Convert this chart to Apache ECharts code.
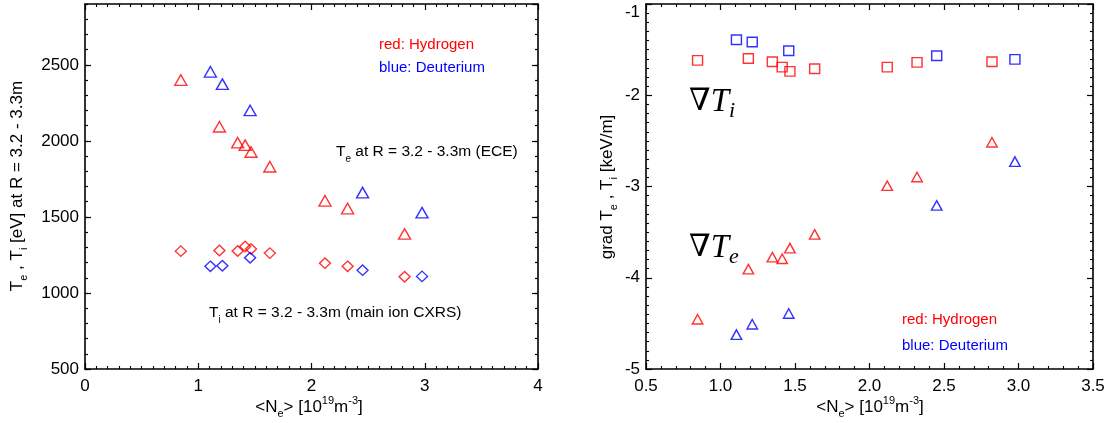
<!DOCTYPE html>
<html><head><meta charset="utf-8">
<script src="https://cdn.jsdelivr.net/npm/echarts@6/dist/echarts.min.js"></script>
<style>html,body{margin:0;padding:0;background:#fff}#c{width:1113px;height:423px}</style>
</head><body><div id="c"></div>
<script>
// ---- data ----
const hydrogenNe = [0.846, 1.187, 1.348, 1.414, 1.466, 1.632, 2.119, 2.319, 2.822];
const deuteriumNe = [1.107, 1.213, 1.458, 2.451, 2.976];
const hydrogenTe = [2400, 2093, 1988, 1972, 1927, 1830, 1606, 1555, 1388];
const deuteriumTe = [2454, 2373, 2200, 1660, 1528];
const hydrogenTi = [1275, 1279, 1276, 1305, 1289, 1262, 1196, 1175, 1106];
const deuteriumTi = [1175, 1179, 1232, 1150, 1109];
const hydrogenGradTi = [-1.618, -1.597, -1.633, -1.692, -1.739, -1.710, -1.692, -1.640, -1.633];
const deuteriumGradTi = [-1.392, -1.417, -1.512, -1.567, -1.607];
const hydrogenGradTe = [-4.455, -3.906, -3.774, -3.792, -3.675, -3.525, -2.991, -2.896, -2.515];
const deuteriumGradTe = [-4.623, -4.510, -4.392, -3.207, -2.727];
// ---- ticks ----
const leftXTicks = [0, 1, 2, 3, 4];
const leftYTicks = [500, 1000, 1500, 2000, 2500];
const leftYMax = 2900;
const leftYMinorStep = 100;
const rightXTicks = [0.5, 1.0, 1.5, 2.0, 2.5, 3.0, 3.5];
const rightYTicks = [-5, -4, -3, -2, -1];

const RED = '#ff0000', BLUE = '#0000ff';
const FONT = '"Liberation Sans", Arial, Helvetica, sans-serif';
const SERIF = '"Liberation Serif", "DejaVu Serif", "Times New Roman", serif';

const chart = echarts.init(document.getElementById('c'), null, {renderer: 'canvas'});
const pair = (a, b) => a.map((v, i) => [v, b[i]]);

function mkAxis(o) {
  return {
    type: 'value', gridIndex: o.grid, position: o.pos,
    show: o.show !== false,
    min: o.min, max: o.max, interval: o.interval,
    axisLine: {show: o.line !== false, onZero: false, lineStyle: {color: '#000', width: 1.6}},
    axisTick: {show: true, inside: true, length: o.tickLen || 6, lineStyle: {color: '#000', width: 1.2}},
    minorTick: {show: !!o.minor, splitNumber: o.minor || 5, length: 3, lineStyle: {color: '#000', width: 1.1}},
    splitLine: {show: false}, minorSplitLine: {show: false},
    axisLabel: Object.assign({show: !!o.labels, color: '#000', fontSize: 17, fontFamily: FONT,
      margin: o.margin || 8, formatter: o.fmt, showMaxLabel: o.showMax !== false}, o.labelExtra || {})
  };
}

const lx = leftXTicks, ly = leftYTicks, rx = rightXTicks, ry = rightYTicks;
const xAxes = [
  mkAxis({grid: 0, pos: 'bottom', min: lx[0], max: lx[lx.length-1], interval: lx[1]-lx[0], minor: 10, labels: true, margin: 9, fmt: v => String(v)}),
  mkAxis({grid: 0, pos: 'top', min: lx[0], max: lx[lx.length-1], interval: lx[1]-lx[0], minor: 10}),
  mkAxis({grid: 1, pos: 'bottom', min: rx[0], max: rx[rx.length-1], interval: rx[1]-rx[0], minor: 5, labels: true, margin: 9, fmt: v => v.toFixed(1)}),
  mkAxis({grid: 1, pos: 'top', min: rx[0], max: rx[rx.length-1], interval: rx[1]-rx[0], minor: 5}),
  mkAxis({grid: 2, pos: 'bottom', min: lx[0], max: lx[lx.length-1], interval: 1, show: false})
];
const yAxes = [
  mkAxis({grid: 0, pos: 'left', min: ly[0], max: leftYMax, interval: ly[1]-ly[0], labels: true, margin: 6, showMax: false, fmt: v => String(v)}),
  mkAxis({grid: 0, pos: 'right', min: ly[0], max: leftYMax, interval: ly[1]-ly[0]}),
  mkAxis({grid: 1, pos: 'left', min: ry[0], max: ry[ry.length-1], interval: ry[1]-ry[0], minor: 10, labels: true, margin: 6, fmt: v => String(v), labelExtra: {verticalAlignMaxLabel: 'top'}}),
  mkAxis({grid: 1, pos: 'right', min: ry[0], max: ry[ry.length-1], interval: ry[1]-ry[0], minor: 10}),
  mkAxis({grid: 2, pos: 'left', min: ly[0], max: leftYMax, interval: leftYMinorStep, tickLen: 3, line: false}),
  mkAxis({grid: 2, pos: 'right', min: ly[0], max: leftYMax, interval: leftYMinorStep, tickLen: 3, line: false})
];

function sc(name, xi, yi, data, symbol, size, color) {
  return {
    name, type: 'scatter', xAxisIndex: xi, yAxisIndex: yi, data, symbol, symbolSize: size,
    itemStyle: {color: 'rgba(0,0,0,0)', borderColor: color, borderWidth: 1.4},
    emphasis: {disabled: true}, silent: true, z: 3
  };
}

const sub = {fontFamily: FONT, verticalAlign: 'bottom'};
const sup = {fontFamily: FONT, verticalAlign: 'top'};
const base = (fs) => ({fontSize: fs, fontFamily: FONT, lineHeight: 24});

function txt(x, y, text, color, fs, extra) {
  return Object.assign({
    type: 'text', x, y, silent: true,
    style: {text, fill: color, font: fs + 'px ' + FONT, align: 'left', verticalAlign: 'middle'}
  }, extra || {});
}
function rich(x, y, text, fs, align, rot) {
  const ss = Math.round(fs * 0.65);
  return {
    type: 'text', x, y, rotation: rot || 0, silent: true,
    style: {text, align: align, verticalAlign: 'middle', fill: '#000',
      rich: {n: base(fs), s: Object.assign({}, sub, {fontSize: ss, lineHeight: ss}),
             p: Object.assign({}, sup, {fontSize: ss, lineHeight: ss})}}
  };
}
function nabla(x, y, s) {
  return {
    type: 'text', x, y, silent: true,
    style: {text: '{v|∇}{t|T}{s|' + s + '}', align: 'left', verticalAlign: 'middle', fill: '#000',
      rich: {v: {fontFamily: SERIF, fontSize: 31, lineHeight: 40},
             t: {fontFamily: SERIF, fontStyle: 'italic', fontSize: 33, lineHeight: 40},
             s: {fontFamily: SERIF, fontStyle: 'italic', fontSize: 22, lineHeight: 20, verticalAlign: 'bottom'}}}
  };
}

const option = {
  animation: false,
  backgroundColor: '#fff',
  grid: [
    {left: 85, top: 4, width: 453, height: 365, outerBoundsMode: 'none', containLabel: false},
    {left: 646, top: 4, width: 447, height: 365, outerBoundsMode: 'none', containLabel: false},
    {left: 85, top: 4, width: 453, height: 365, outerBoundsMode: 'none', containLabel: false}
  ],
  xAxis: xAxes,
  yAxis: yAxes,
  series: [
    sc('H Te', 0, 0, pair(hydrogenNe, hydrogenTe), 'triangle', [12, 10.5], RED),
    sc('D Te', 0, 0, pair(deuteriumNe, deuteriumTe), 'triangle', [12, 10.5], BLUE),
    sc('H Ti', 0, 0, pair(hydrogenNe, hydrogenTi), 'diamond', [11, 10.5], RED),
    sc('D Ti', 0, 0, pair(deuteriumNe, deuteriumTi), 'diamond', [11, 10.5], BLUE),
    sc('H gradTi', 2, 2, pair(hydrogenNe, hydrogenGradTi), 'rect', [10, 9.5], RED),
    sc('D gradTi', 2, 2, pair(deuteriumNe, deuteriumGradTi), 'rect', [10, 9.5], BLUE),
    sc('H gradTe', 2, 2, pair(hydrogenNe, hydrogenGradTe), 'triangle', [10.5, 9.5], RED),
    sc('D gradTe', 2, 2, pair(deuteriumNe, deuteriumGradTe), 'triangle', [10.5, 9.5], BLUE)
  ],
  graphic: [
    txt(379, 45, 'red: Hydrogen', RED, 15),
    txt(379, 68, 'blue: Deuterium', BLUE, 15),
    rich(336, 152, '{n|T}{s|e}{n| at R = 3.2 - 3.3m (ECE)}', 15.5, 'left'),
    rich(209, 313, '{n|T}{s|i}{n| at R = 3.2 - 3.3m (main ion CXRS)}', 15.5, 'left'),
    rich(17, 186, '{n|T}{s|e}{n| , T}{s|i}{n| [eV] at R = 3.2 - 3.3m}', 17, 'center', Math.PI/2),
    rich(309, 407, '{n|<N}{s|e}{n|> [10}{p|19}{n|m}{p|-3}{n|]}', 17, 'center'),
    txt(902, 320, 'red: Hydrogen', RED, 15),
    txt(902, 346, 'blue: Deuterium', BLUE, 15),
    nabla(689, 102, 'i'),
    nabla(689, 248, 'e'),
    rich(607, 187, '{n|grad T}{s|e}{n| , T}{s|i}{n| [keV/m]}', 17, 'center', Math.PI/2),
    rich(870, 407, '{n|<N}{s|e}{n|> [10}{p|19}{n|m}{p|-3}{n|]}', 17, 'center')
  ]
};
chart.setOption(option);
</script>
</body></html>
